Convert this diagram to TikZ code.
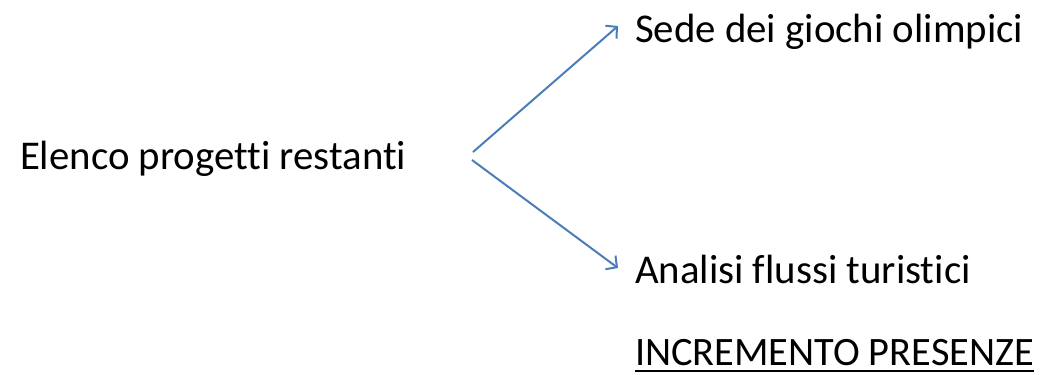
\documentclass[tikz,border=0pt]{standalone}
\usepackage{fontspec}
\setmainfont[Ligatures={NoCommon}]{Carlito}
\usetikzlibrary{arrows.meta}
\definecolor{arrowblue}{HTML}{4A7EBB}
\begin{document}
\begin{tikzpicture}[x=1bp,y=-1bp,
  lbl/.style={anchor=base west,inner sep=0pt,outer sep=0pt,font=\fontsize{41}{49}\selectfont},
  conn/.style={draw=arrowblue,line width=2bp,-{Straight Barb[length=8bp,width=17bp,line width=2bp]}}]
\useasboundingbox (0,0) rectangle (1041,374);
\node[lbl] (src) at (20,169) {Elenco progetti restanti};
\node[lbl] (sede) at (635,42) {Sede dei giochi olimpici};
\node[lbl] (analisi) at (635,283) {Analisi flussi turistici};
\node[lbl,font=\fontsize{40.5}{48}\selectfont] (incr) at (635,365) {INCREMENTO PRESENZE};
\draw[black,line width=1.3bp] ([yshift=-6bp]incr.base west) -- ([yshift=-6bp]incr.base east);
\coordinate (s1) at (473,152);
\coordinate (s2) at (472,160);
\coordinate (e1) at (618,26);
\coordinate (e2) at (618,268);
\draw[conn] (s1) -- (e1);
\draw[conn] (s2) -- (e2);
\end{tikzpicture}
\end{document}
